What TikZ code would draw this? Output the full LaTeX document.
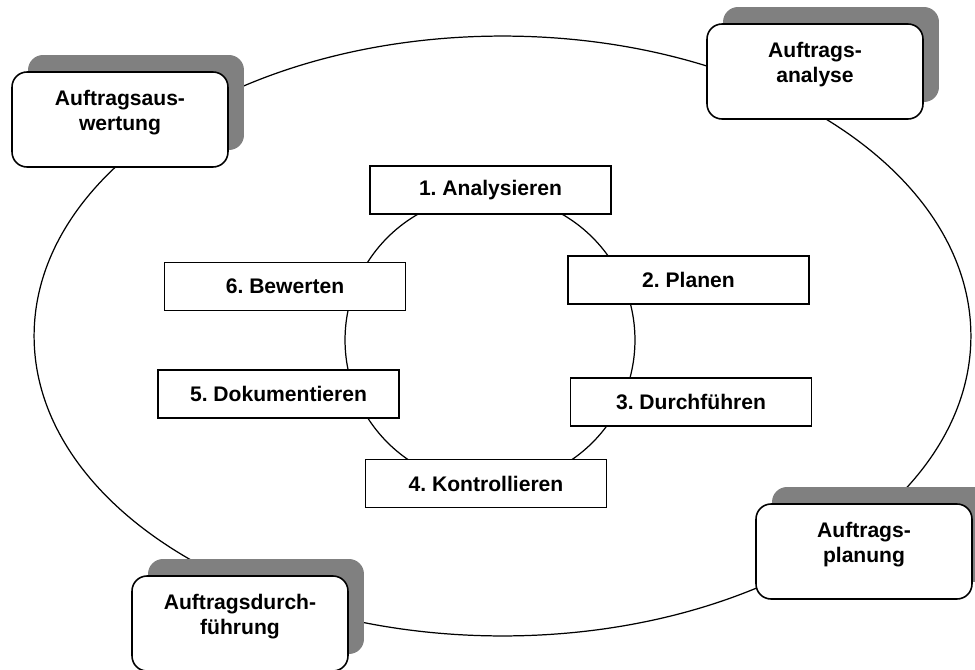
\documentclass[tikz,border=0pt]{standalone}
\usepackage{fontspec}
\setmainfont{Liberation Sans}
\usetikzlibrary{shadows}
\frenchspacing

\begin{document}
\begin{tikzpicture}[x=0.02cm, y=-0.02cm, line width=0.7pt,
    phase/.style={draw, rounded corners=0.3cm, fill=white, line width=0.9pt,
      minimum width=4.32cm, minimum height=1.9cm,
      drop shadow={shadow xshift=0.32cm, shadow yshift=0.34cm, fill=black!50, opacity=1}},
    phasetext/.style={align=center, yshift=0.14cm, font=\fontsize{12}{14.2}\selectfont\bfseries},
    stepbox/.style={draw, fill=white, line width=0.8pt, minimum width=4.82cm, minimum height=0.96cm,
      font=\fontsize{12}{14.2}\selectfont\bfseries}]
  \useasboundingbox (0,0) rectangle (975,670);

  % Kreise
  \draw (502.5,336) ellipse [x radius=9.37cm, y radius=6cm];
  \draw (490,340) circle [radius=2.9cm];

  % Auftragsphasen
  \node[phase] (auswertung) at (120,119.5) {};
  \node[phase] (analyse) at (815,71.5) {};
  \node[phase] (planung) at (864,551.5) {};
  \node[phase] (durchfuehrung) at (240,623.5) {};
  \node[phasetext] (auswertungT) at (auswertung) {Auftragsaus-\\wertung};
  \node[phasetext] (analyseT) at (analyse) {Auftrags-\\analyse};
  \node[phasetext] (planungT) at (planung) {Auftrags-\\planung};
  \node[phasetext] (durchfuehrungT) at (durchfuehrung) {Auftragsdurch-\\führung};

  % Handlungsschritte
  \node[stepbox] (s1) at (490.5,190) {1. Analysieren};
  \node[stepbox] (s2) at (688.5,280) {2. Planen};
  \node[stepbox] (s3) at (691,402) {3. Durchführen};
  \node[stepbox] (s4) at (486,483.5) {4. Kontrollieren};
  \node[stepbox] (s5) at (278.5,394) {5. Dokumentieren};
  \node[stepbox] (s6) at (285,286.5) {6. Bewerten};
\end{tikzpicture}
\end{document}
